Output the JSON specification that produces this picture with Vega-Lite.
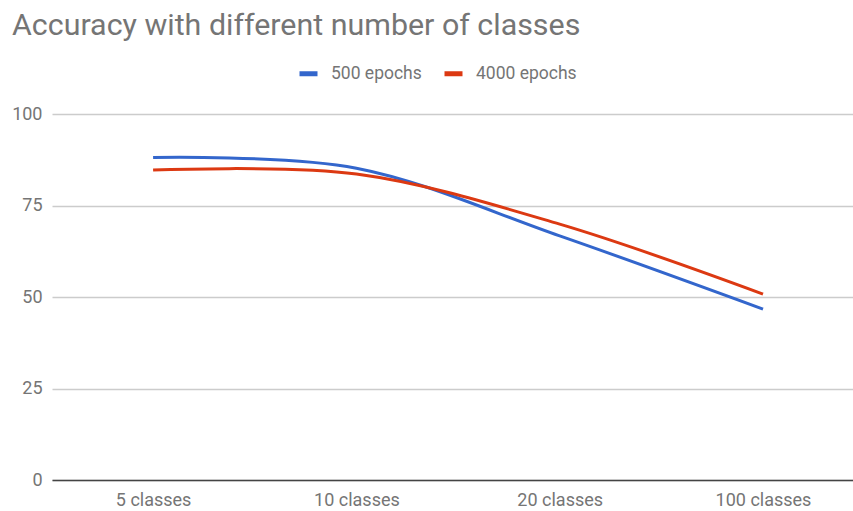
{
  "$schema": "https://vega.github.io/schema/vega-lite/v6.json",
  "width": 801,
  "height": 366,
  "autosize": {"type": "none"},
  "padding": {"left": 52, "top": 114, "right": 0, "bottom": 31},
  "background": "white",
  "config": {"view": {"stroke": null}, "font": "Roboto"},
  "title": {
    "text": "Accuracy with different number of classes",
    "anchor": "start",
    "frame": "group",
    "font": "Roboto",
    "fontSize": 30.4,
    "fontWeight": "normal",
    "color": "#757575",
    "dx": -40,
    "offset": 21
  },
  "data": {
    "values": [
      {"classes": "5 classes", "series": "500 epochs", "accuracy": 88.1},
      {"classes": "10 classes", "series": "500 epochs", "accuracy": 85.2},
      {"classes": "20 classes", "series": "500 epochs", "accuracy": 66.7},
      {"classes": "100 classes", "series": "500 epochs", "accuracy": 46.7},
      {"classes": "5 classes", "series": "4000 epochs", "accuracy": 84.7},
      {"classes": "10 classes", "series": "4000 epochs", "accuracy": 83.6},
      {"classes": "20 classes", "series": "4000 epochs", "accuracy": 69.9},
      {"classes": "100 classes", "series": "4000 epochs", "accuracy": 50.8}
    ]
  },
  "mark": {"type": "line", "interpolate": "cardinal", "strokeWidth": 3},
  "encoding": {
    "x": {
      "field": "classes",
      "type": "ordinal",
      "sort": ["5 classes", "10 classes", "20 classes", "100 classes"],
      "scale": {"type": "point", "padding": 0.47, "align": 0.529},
      "axis": {
        "title": null,
        "labelAngle": 0,
        "labelFont": "Roboto",
        "labelFontSize": 18,
        "labelColor": "#757575",
        "labelPadding": 11,
        "ticks": false,
        "grid": false,
        "domainColor": "#444444",
        "domainWidth": 1.5
      }
    },
    "y": {
      "field": "accuracy",
      "type": "quantitative",
      "scale": {"domain": [0, 100], "nice": false},
      "axis": {
        "title": null,
        "values": [0, 25, 50, 75, 100],
        "grid": true,
        "gridColor": "#cccccc",
        "gridWidth": 1.3,
        "domain": false,
        "ticks": false,
        "labelFont": "Roboto",
        "labelFontSize": 18,
        "labelColor": "#757575",
        "labelPadding": 10
      }
    },
    "color": {
      "field": "series",
      "type": "nominal",
      "scale": {"domain": ["500 epochs", "4000 epochs"], "range": ["#3366CC", "#DC3912"]},
      "legend": {
        "title": null,
        "orient": "none",
        "direction": "horizontal",
        "legendX": 245,
        "legendY": -52,
        "padding": 0,
        "symbolType": "stroke",
        "symbolSize": 324,
        "symbolStrokeWidth": 5,
        "labelFont": "Roboto",
        "labelFontSize": 17.5,
        "labelColor": "#757575",
        "labelOffset": 11,
        "columnPadding": 12
      }
    }
  }
}
